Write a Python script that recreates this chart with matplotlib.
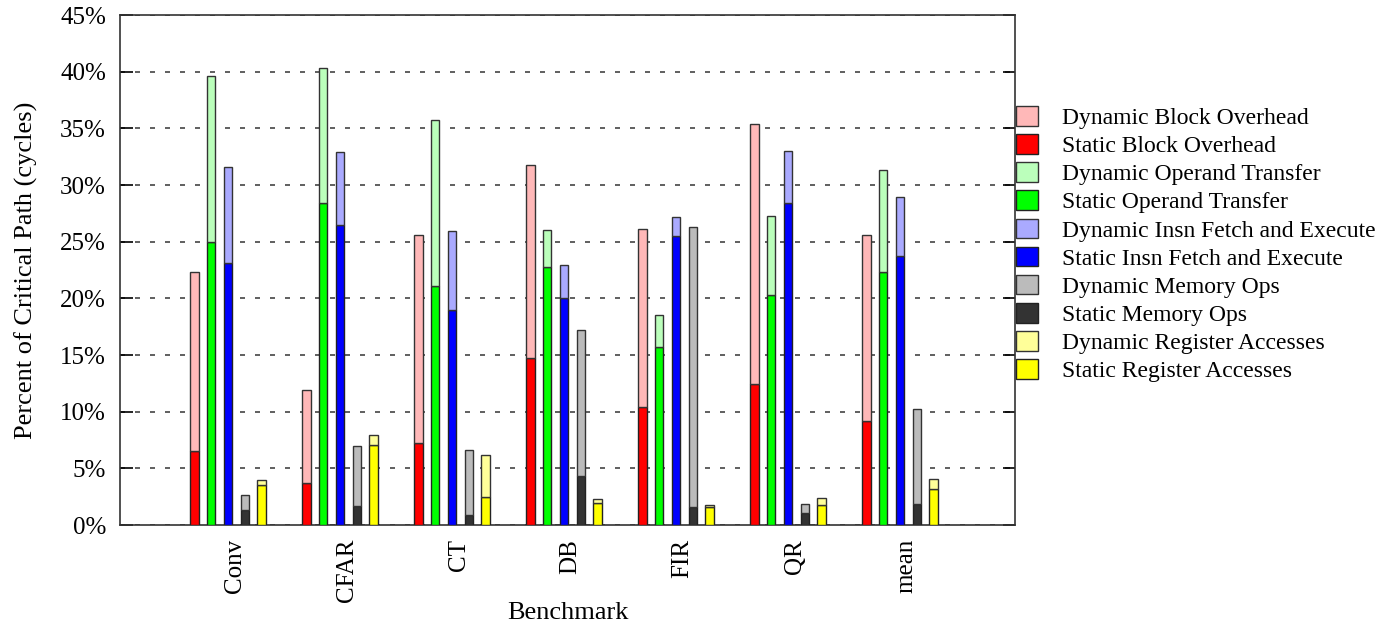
import numpy as np
import matplotlib.pyplot as plt
from matplotlib.ticker import FuncFormatter

plt.rcParams['font.family'] = ['Liberation Serif', 'DejaVu Serif']

benchmarks = ['Conv', 'CFAR', 'CT', 'DB', 'FIR', 'QR', 'mean']

# static part (bottom) and dynamic part (stacked on top), in percent
static_block = [6.5, 3.7, 7.2, 14.7, 10.45, 12.45, 9.2]
dynamic_block = [15.8, 8.2, 18.4, 17.1, 15.65, 22.95, 16.4]
static_operand = [25.0, 28.45, 21.1, 22.8, 15.7, 20.3, 22.3]
dynamic_operand = [14.6, 11.85, 14.6, 3.2, 2.8, 7.0, 9.0]
static_insn = [23.1, 26.5, 19.0, 20.05, 25.5, 28.4, 23.7]
dynamic_insn = [8.5, 6.4, 6.9, 2.85, 1.7, 4.6, 5.25]
static_mem = [1.35, 1.7, 0.9, 4.3, 1.6, 1.03, 1.83]
dynamic_mem = [1.3, 5.3, 5.7, 12.9, 24.7, 0.8, 8.4]
static_reg = [3.55, 7.1, 2.5, 1.97, 1.55, 1.77, 3.15]
dynamic_reg = [0.4, 0.8, 3.65, 0.33, 0.25, 0.63, 0.9]

groups = [
    ('Block Overhead', static_block, dynamic_block, '#ff0000', '#ffb8b8'),
    ('Operand Transfer', static_operand, dynamic_operand, '#00ff00', '#bbffbb'),
    ('Insn Fetch and Execute', static_insn, dynamic_insn, '#0000ff', '#aaaaff'),
    ('Memory Ops', static_mem, dynamic_mem, '#333333', '#bbbbbb'),
    ('Register Accesses', static_reg, dynamic_reg, '#ffff00', '#ffff99'),
]

fig = plt.figure(figsize=(13.92, 6.29), dpi=100)
ax = fig.add_axes([120 / 1392, 104 / 629, 895 / 1392, 510 / 629])

x = np.arange(len(benchmarks))
width = 0.074
step = 0.15
handles = []
for k, (name, st, dy, cs, cd) in enumerate(groups):
    pos = x + (k - 2) * step
    hs = ax.bar(pos, st, width, color=cs, edgecolor='#222222', linewidth=1.0, zorder=3)
    hd = ax.bar(pos, dy, width, bottom=st, color=cd, edgecolor='#333333', linewidth=1.0, zorder=3)
    handles.append((hd, 'Dynamic ' + name))
    handles.append((hs, 'Static ' + name))

ax.set_xlim(-0.964, 7.027)
ax.set_ylim(0, 45)
ax.set_yticks(np.arange(0, 46, 5))
ax.yaxis.set_major_formatter(FuncFormatter(lambda v, p: '%d%%' % v))
ax.set_xticks(x + 0.06)
ax.set_xticklabels(benchmarks, rotation=90, va='top')
ax.tick_params(axis='x', length=0, pad=10, labelsize=18)
ax.tick_params(axis='y', direction='in', length=9, width=1.2, right=True, labelsize=18, pad=10)
ax.grid(axis='y', linestyle=(0, (3, 6)), color='#444444', linewidth=1.2, zorder=0)
for s in ax.spines.values():
    s.set_linewidth(1.2)
    s.set_color('#333333')

ax.set_ylabel('Percent of Critical Path (cycles)', fontsize=19, labelpad=16)
ax.set_xlabel('Benchmark', fontsize=19, labelpad=0)

fig.legend([h for h, l in handles], [l for h, l in handles],
           loc='upper left', bbox_to_anchor=(1016 / 1392, 1 - 106 / 629),
           frameon=False, fontsize=17, handlelength=0.95, handleheight=0.9,
           handletextpad=1.0, labelspacing=0.22, borderpad=0, borderaxespad=0)

fig.savefig('out.png', dpi=100)
